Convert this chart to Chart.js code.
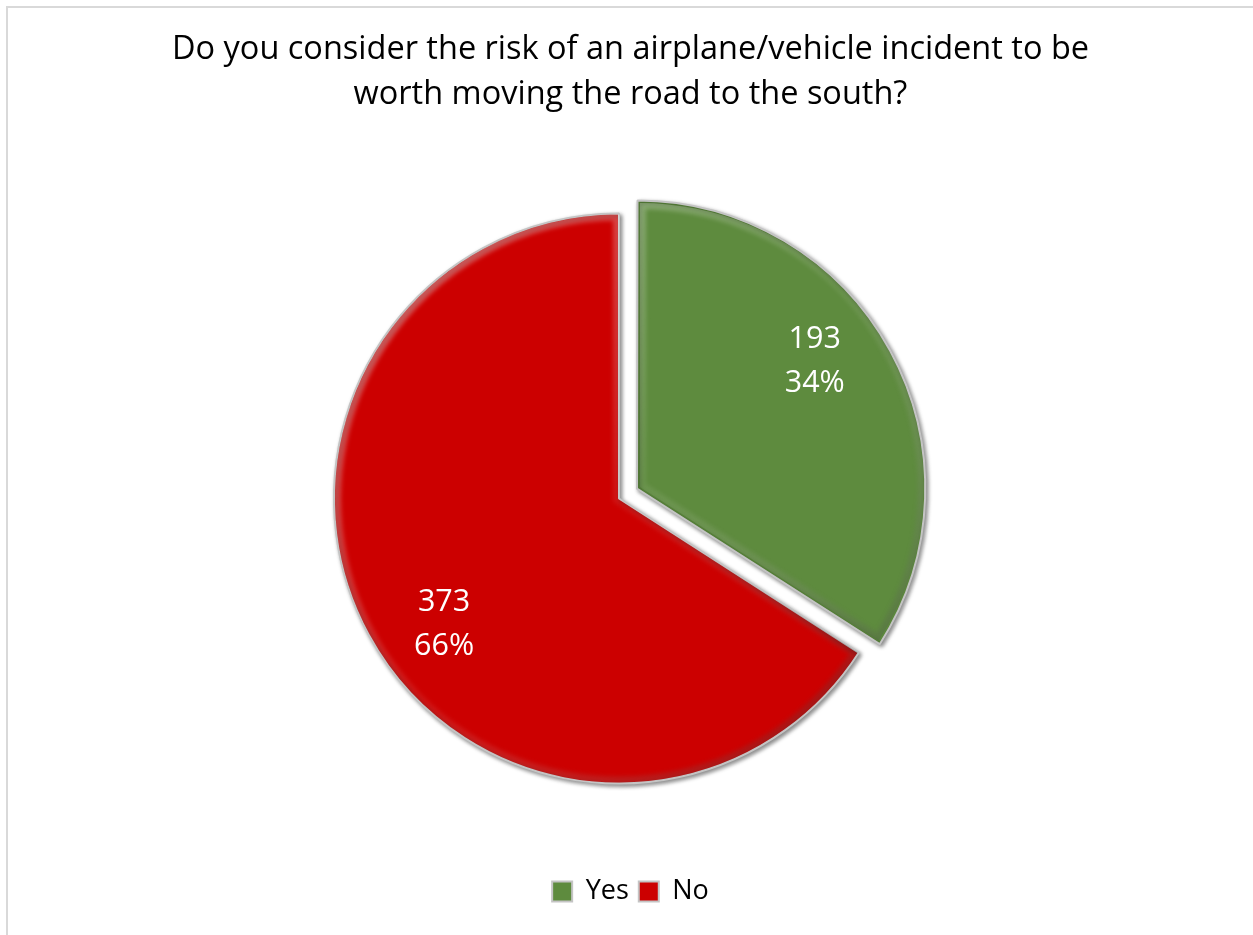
<!DOCTYPE html>
<html>
<head>
<meta charset="utf-8">
<script src="https://cdn.jsdelivr.net/npm/chart.js@4/dist/chart.umd.min.js"></script>
<style>
  html, body { margin: 0; padding: 0; background: #ffffff; }
  body { position: relative; width: 1253px; height: 935px; overflow: hidden; }
  #frame { position: absolute; left: 6px; top: 6px; width: 1400px; height: 1100px;
           border-left: 2px solid #d9d9d9; border-top: 2px solid #d9d9d9; }
  #chart { position: absolute; left: 0; top: 0; }
</style>
</head>
<body>
<div id="frame"></div>
<canvas id="chart" width="1253" height="935"></canvas>
<script>
// Survey answers
const categories = ['Yes', 'No'];
const responses = [193, 373];
const sliceColors = ['#5E8B3E', '#CC0000'];
const sliceOffsets = [82, 0];
const titleLines = [
  'Do you consider the risk of an airplane/vehicle incident to be',
  'worth moving the road to the south?'
];

const FONT = '"Open Sans", Lato, "Liberation Sans", sans-serif';
const PIE_RADIUS = 285;
const PIE_SHIFT_X = -11.5;      // nudge the pie left of the title axis
const LABEL_RADIUS = 0.755;     // label distance as a fraction of the radius
const LABEL_ANGLE_SHIFT = -7;   // degrees, label sits a bit before the bisector

// where an arc really is once its offset has been applied (same maths as ArcElement.draw)
function arcGeometry(arc) {
  const p = arc.getProps(['x', 'y', 'startAngle', 'endAngle', 'outerRadius', 'circumference']);
  const half = (p.startAngle + p.endAngle) / 2;
  const off = (arc.options.offset || 0) / 4;
  const fix = 1 - Math.sin(Math.min(Math.PI, p.circumference || 0));
  const t = off + off * fix;
  return { cx: p.x + Math.cos(half) * t, cy: p.y + Math.sin(half) * t,
           r: p.outerRadius, a0: p.startAngle, a1: p.endAngle, half };
}

function slicePath(ctx, g, r) {
  ctx.beginPath();
  ctx.moveTo(g.cx, g.cy);
  ctx.arc(g.cx, g.cy, r, g.a0, g.a1);
  ctx.closePath();
}

const pieShift = {
  id: 'pieShift',
  afterLayout(chart) {
    chart.chartArea.left += PIE_SHIFT_X;
    chart.chartArea.right += PIE_SHIFT_X;
  }
};

// drop shadow under the slices, then a soft bevel inside each one
const bevel = {
  id: 'bevel',
  beforeDatasetsDraw(chart) {
    const ctx = chart.ctx;
    ctx.save();
    ctx.shadowColor = 'rgba(0,0,0,0.45)';
    ctx.shadowBlur = 4;
    ctx.shadowOffsetX = 2;
    ctx.shadowOffsetY = 2;
  },
  afterDatasetsDraw(chart) {
    const ctx = chart.ctx;
    ctx.restore();
    chart.getDatasetMeta(0).data.forEach(arc => {
      const g = arcGeometry(arc);
      ctx.save();
      slicePath(ctx, g, g.r - 1);
      ctx.clip();
      const grad = ctx.createLinearGradient(g.cx - g.r, g.cy - g.r, g.cx + g.r, g.cy + g.r);
      grad.addColorStop(0, 'rgba(255,255,255,0.45)');
      grad.addColorStop(0.5, 'rgba(255,255,255,0.08)');
      grad.addColorStop(1, 'rgba(0,0,0,0.35)');
      ctx.filter = 'blur(2px)';
      ctx.lineWidth = 12;
      ctx.lineJoin = 'miter';
      ctx.strokeStyle = grad;
      slicePath(ctx, g, g.r - 1);
      ctx.stroke();
      ctx.restore();
    });
  }
};

// value and percentage written inside each slice
const sliceLabels = {
  id: 'sliceLabels',
  afterDatasetsDraw(chart) {
    const ctx = chart.ctx;
    const data = chart.data.datasets[0].data;
    const total = data.reduce((a, b) => a + b, 0);
    chart.getDatasetMeta(0).data.forEach((arc, i) => {
      const g = arcGeometry(arc);
      const ang = g.half + LABEL_ANGLE_SHIFT * Math.PI / 180;
      const x = g.cx + Math.cos(ang) * g.r * LABEL_RADIUS;
      const y = g.cy + Math.sin(ang) * g.r * LABEL_RADIUS;
      ctx.save();
      ctx.fillStyle = '#ffffff';
      ctx.font = '30.5px ' + FONT;
      ctx.textAlign = 'center';
      ctx.textBaseline = 'middle';
      ctx.fillText(String(data[i]), x, y - 22);
      ctx.fillText(Math.round(data[i] / total * 100) + '%', x, y + 22);
      ctx.restore();
    });
  }
};

new Chart(document.getElementById('chart'), {
  type: 'pie',
  data: {
    labels: categories,
    datasets: [{
      data: responses,
      backgroundColor: sliceColors,
      borderColor: '#c4c4c4',
      borderWidth: 2,
      offset: sliceOffsets,
      hoverOffset: 0,
      radius: PIE_RADIUS
    }]
  },
  options: {
    responsive: false,
    devicePixelRatio: 1,
    animation: false,
    events: [],
    layout: { padding: { left: 8, right: 0, top: 0, bottom: 20 } },
    plugins: {
      title: {
        display: true,
        text: titleLines,
        color: '#000000',
        font: { family: FONT, size: 32.5, weight: 'normal', lineHeight: '45px' },
        padding: { top: 27, bottom: 12 }
      },
      legend: {
        display: true,
        position: 'bottom',
        labels: {
          color: '#000000',
          font: { family: FONT, size: 27 },
          boxWidth: 20,
          boxHeight: 20,
          padding: 10
        }
      },
      tooltip: { enabled: false }
    }
  },
  plugins: [pieShift, bevel, sliceLabels]
});
</script>
</body>
</html>
